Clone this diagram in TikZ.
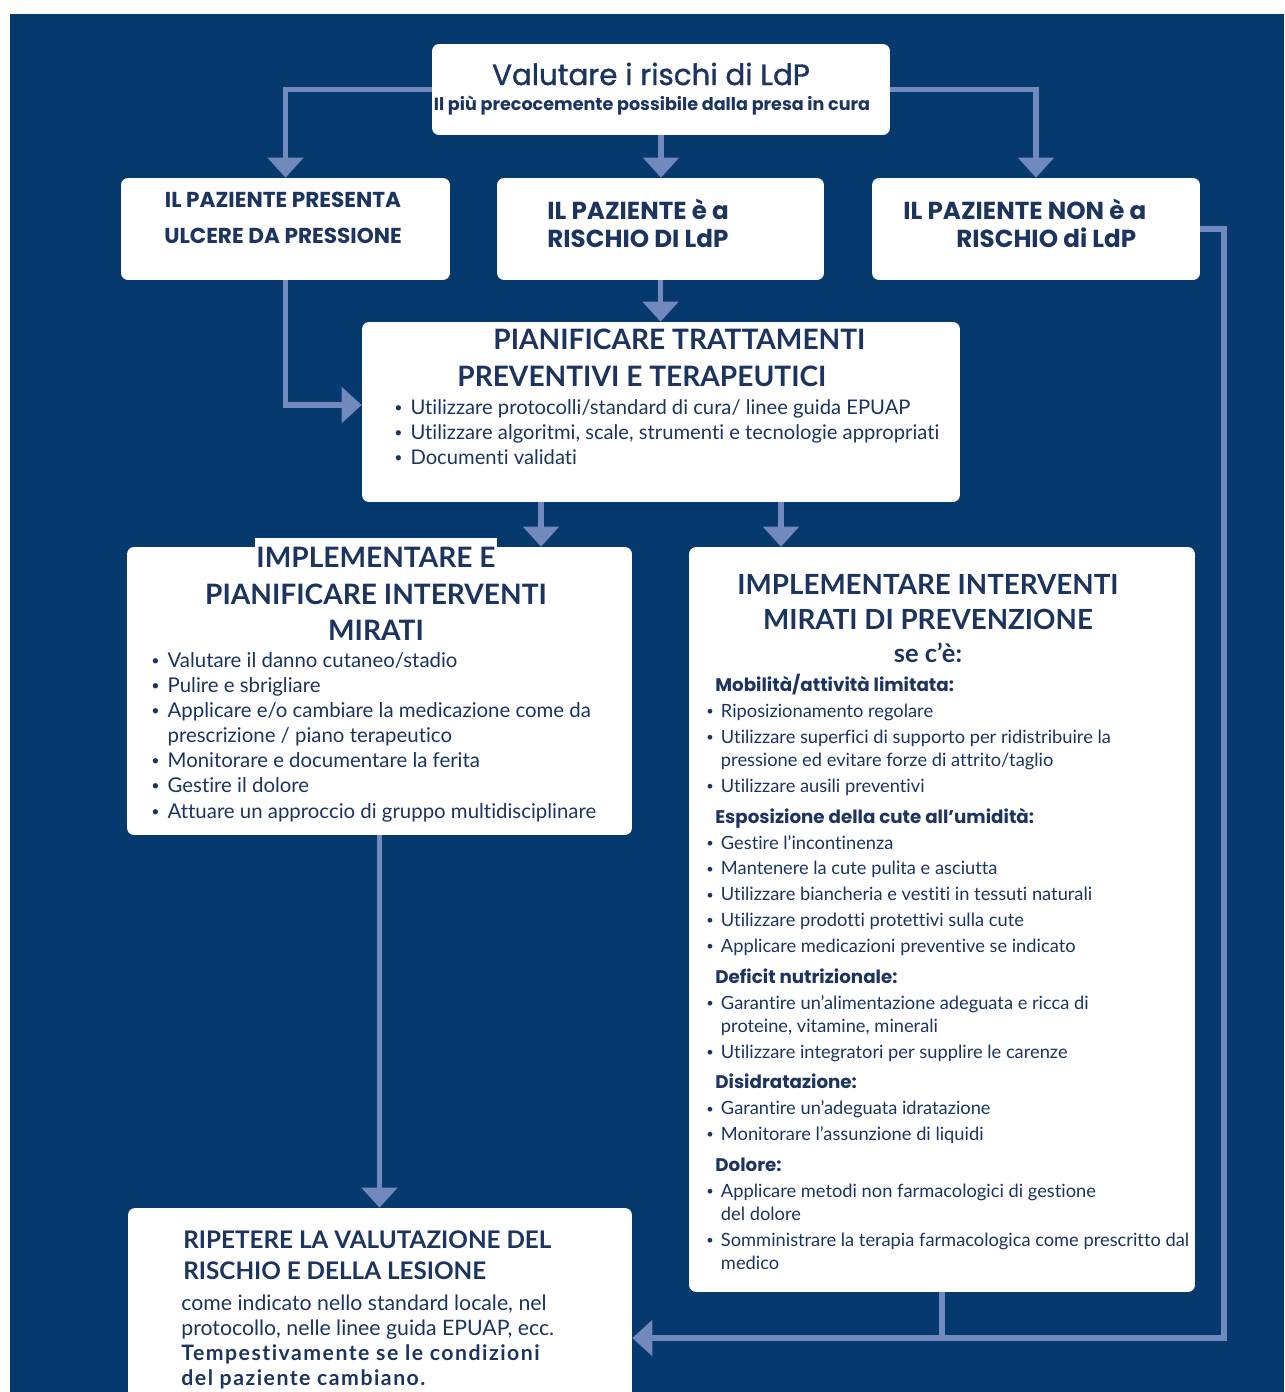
\documentclass[tikz,border=0pt]{standalone}
\usepackage{fontspec}
\setmainfont{Lato}[Ligatures={TeX,NoCommon}]
\newfontfamily\gothic{Poppins}
\newfontfamily\gothicM[FakeBold=1.2]{Poppins}
\usetikzlibrary{arrows.meta,positioning,calc}
\definecolor{bgColor}{RGB}{6,58,110}
\definecolor{lineColor}{RGB}{113,137,189}
\definecolor{textColor}{RGB}{28,52,96}
\tikzset{box/.style={fill=white, draw=none, rounded corners=4pt, inner sep=0pt}}
\tikzset{conn/.style={draw=lineColor, line width=3.2pt, -{Triangle[width=0.7cm,length=0.4cm]}}}
\tikzset{link/.style={draw=lineColor, line width=3.2pt}}
\tikzset{txt/.style={text=textColor, inner sep=0pt, align=left, anchor=north west}}
\newcommand{\bul}{\makebox[0.8em][l]{\raisebox{0.1em}{\scalebox{0.7}{\textbullet}}}}
\newcommand{\cnt}{\hspace*{0.8em}}
\newcommand{\head}[1]{\hspace*{0.18cm}{\gothic\bfseries #1}}
\newcommand{\wide}[1]{{\addfontfeature{LetterSpace=7}#1}}

\begin{document}
\begin{tikzpicture}[x=0.02cm, y=-0.02cm]
\clip (0,0) rectangle (1284,1392);
\fill[white] (0,0) rectangle (1284,1392);
\fill[bgColor] (10,14) rectangle (1284,1392);

% Boxes
    \node (valuta) [box, minimum width=9.16cm, minimum height=1.82cm] at (661,89.5) {};
    \node (pazUlcera) [box, minimum width=6.58cm, minimum height=2.04cm] at (285.5,229) {};
    \node (pazRischio) [box, minimum width=6.54cm, minimum height=2.04cm] at (660.5,229) {};
    \node (pazNonRischio) [box, minimum width=6.56cm, minimum height=2.04cm] at (1036,229) {};
    \node (pianifica) [box, minimum width=11.96cm, minimum height=3.6cm] at (661,412) {};
    \node (implLeft) [box, minimum width=10.1cm, minimum height=5.76cm] at (379.5,691) {};
    \node (implRight) [box, minimum width=10.12cm, minimum height=14.9cm] at (942,919.5) {};
    \node (ripetere) [box, minimum width=10.08cm, minimum height=3.84cm] at (380,1304) {};

% Texts
    \node (valutaTitle) [txt, anchor=center, font=\gothicM\fontsize{16.7}{19}\selectfont] at (651,74) {Valutare i rischi di LdP};
    \node (valutaSub) [txt, anchor=center, font=\gothic\bfseries\fontsize{10}{12}\selectfont] at (652,106) {Il più precocemente possibile dalla presa in cura};

    \node (ulceraText) [txt, anchor=center, align=center, font=\gothic\bfseries\fontsize{12.3}{20.4}\selectfont] at (283,218) {IL PAZIENTE PRESENTA\\ULCERE DA PRESSIONE};
    \node (rischioText) [txt, anchor=west, font=\gothic\bfseries\fontsize{14}{15.9}\selectfont] at (547,223) {IL PAZIENTE è a\\RISCHIO DI LdP};
    \node (nonRischioText) [txt, anchor=west, font=\gothic\bfseries\fontsize{14}{15.9}\selectfont] at (903,223) {IL PAZIENTE NON è a\\\hspace*{1.06cm}RISCHIO di LdP};

    \node (pianificaTitle) [txt, font=\bfseries\fontsize{16}{21}\selectfont] at (457,329) {\hspace*{0.72cm}PIANIFICARE TRATTAMENTI\\PREVENTIVI E TERAPEUTICI};
    \node (pianificaList) [txt, font=\fontsize{11.5}{14.2}\selectfont] at (394,399) {\bul Utilizzare protocolli/standard di cura/ linee guida EPUAP\\\bul Utilizzare algoritmi, scale, strumenti e tecnologie appropriati\\\bul Documenti validati};

    \node (implLeftTitleA) [txt, anchor=center, fill=white, inner xsep=1pt, inner ysep=5pt, font=\bfseries\fontsize{16}{20.7}\selectfont] at (376,557) {IMPLEMENTARE E};
    \node (implLeftTitleB) [txt, anchor=center, align=center, font=\bfseries\fontsize{16}{20.7}\selectfont] at (376,612) {PIANIFICARE INTERVENTI\\MIRATI};
    \node (implLeftList) [txt, font=\fontsize{11.6}{14.3}\selectfont] at (151,652) {\bul Valutare il danno cutaneo/stadio\\\bul Pulire e sbrigliare\\\bul Applicare e/o cambiare la medicazione come da\\\cnt prescrizione / piano terapeutico\\\bul Monitorare e documentare la ferita\\\bul Gestire il dolore\\\bul Attuare un approccio di gruppo multidisciplinare};

    \node (implRightTitle) [txt, anchor=center, align=center, font=\bfseries\fontsize{15.8}{19.8}\selectfont] at (928,602) {IMPLEMENTARE INTERVENTI\\MIRATI DI PREVENZIONE};
    \node (seCe) [txt, anchor=center, font=\bfseries\fontsize{14.5}{16}\selectfont] at (928,653) {se c’è:};
    \node (implRightList) [txt, font=\fontsize{10.4}{14.74}\selectfont] at (706,674) {\head{Mobilità/attività limitata:}\\
      \bul Riposizionamento regolare\\
      \bul Utilizzare superfici di supporto per ridistribuire la\\[-1.7pt]
      \cnt pressione ed evitare forze di attrito/taglio\\
      \bul Utilizzare ausili preventivi\\[2.8pt]
      \head{Esposizione della cute all’umidità:}\\
      \bul Gestire l’incontinenza\\
      \bul Mantenere la cute pulita e asciutta\\
      \bul Utilizzare biancheria e vestiti in tessuti naturali\\
      \bul Utilizzare prodotti protettivi sulla cute\\
      \bul Applicare medicazioni preventive se indicato\\[2.8pt]
      \head{Deficit nutrizionale:}\\
      \bul Garantire un’alimentazione adeguata e ricca di\\[-1.7pt]
      \cnt proteine, vitamine, minerali\\
      \bul Utilizzare integratori per supplire le carenze\\[2.8pt]
      \head{Disidratazione:}\\
      \bul Garantire un’adeguata idratazione\\
      \bul Monitorare l’assunzione di liquidi\\[2.8pt]
      \head{Dolore:}\\
      \bul Applicare metodi non farmacologici di gestione\\[-1.7pt]
      \cnt del dolore\\
      \bul Somministrare la terapia farmacologica come prescritto dal\\[-1.7pt]
      \cnt medico};

    \node (ripetereTitle) [txt, font=\bfseries\fontsize{13.8}{18.1}\selectfont] at (183,1230) {RIPETERE LA VALUTAZIONE DEL\\RISCHIO E DELLA LESIONE};
    \node (ripetereBody) [txt, font=\fontsize{12.1}{14.4}\selectfont] at (181,1294) {come indicato nello standard locale, nel\\protocollo, nelle linee guida EPUAP, ecc.\\\textbf{\wide{Tempestivamente se le condizioni}}\\\textbf{\wide{del paziente cambiano.}}};

% Connectors
    \coordinate (splitL) at ($(pianifica.south)+(-120,0)$);
    \coordinate (splitR) at ($(pianifica.south)+(120,0)$);
    \coordinate (loopCorner) at (1224,1338);

    \draw [conn] (valuta.west) -| (pazUlcera.north);
    \draw [conn] (valuta.south) -- (valuta.south |- pazRischio.north);
    \draw [conn] (valuta.east) -| (pazNonRischio.north);
    \draw [conn] (pazRischio.south) -- (pazRischio.south |- pianifica.north);
    \draw [conn] (pazUlcera.south) |- ([yshift=0.14cm]pianifica.west);
    \draw [conn] (splitL) -- (splitL |- implLeft.north);
    \draw [conn] (splitR) -- (splitR |- implRight.north);
    \draw [conn] (implLeft.south) -- (implLeft.south |- ripetere.north);
    \draw [conn] (pazNonRischio.east) -| (loopCorner) -- (loopCorner -| ripetere.east);
    \draw [link] (implRight.south) -- (implRight.south |- loopCorner);

\end{tikzpicture}
\end{document}
